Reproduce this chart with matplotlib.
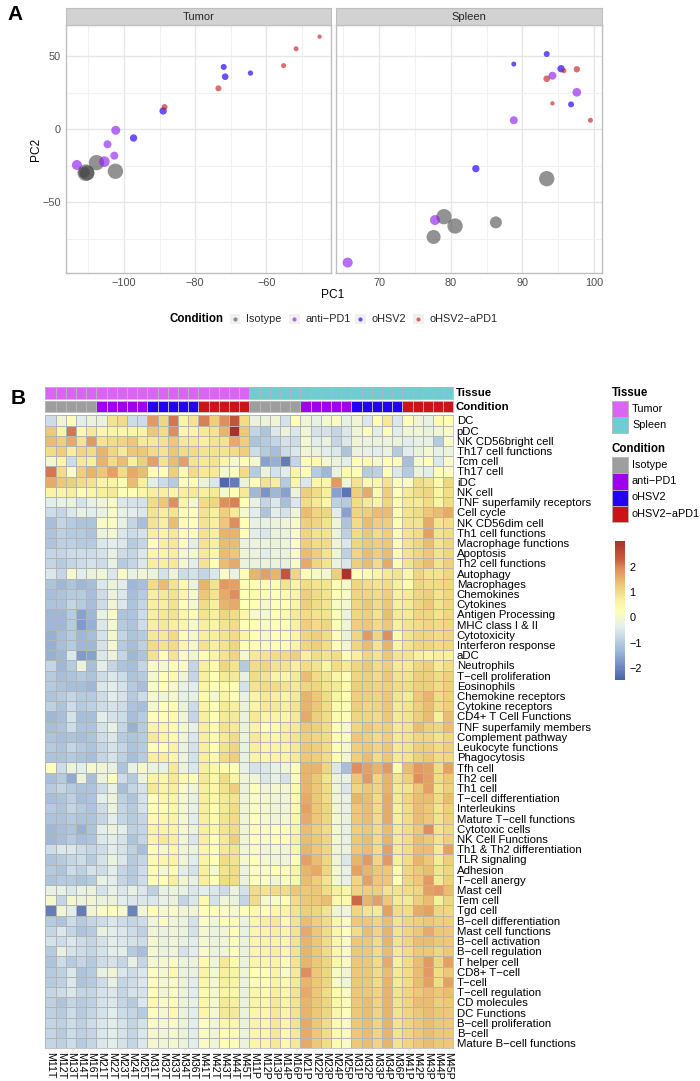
import matplotlib
matplotlib.use("Agg")
import matplotlib.pyplot as plt
import numpy as np
from matplotlib.colors import LinearSegmentedColormap, ListedColormap
from matplotlib.patches import Rectangle

plt.rcParams['font.family'] = ['Liberation Sans', 'DejaVu Sans']

W, H = 700, 1081
conditions = ['Isotype', 'anti\u2212PD1', 'oHSV2', 'oHSV2\u2212aPD1']
scatter_colors = ['#444444', '#9020F0', '#2000FF', '#C01818']
scatter_alpha = [0.58, 0.65, 0.68, 0.62]
track_colors = ['#9E9E9E', '#A000F0', '#2400F5', '#CC1418']
tissue_names = ['Tumor', 'Spleen']
tissue_colors = ['#DC64F5', '#6ECDD2']

tumor_pc1 = {
    'Isotype': [-107.7, -110.7, -110.3, -102.4, -111.2],
    'anti\u2212PD1': [-113.2, -105.5, -102.7, -104.6, -102.3],
    'oHSV2': [-97.3, -89.0, -71.6, -72.0, -64.5],
    'oHSV2\u2212aPD1': [-88.6, -73.5, -55.2, -51.7, -45.1],
}
tumor_pc2 = {
    'Isotype': [-22.9, -29.8, -30.0, -28.8, -29.7],
    'anti\u2212PD1': [-24.5, -22.2, -18.1, -10.3, -0.7],
    'oHSV2': [-6.0, 12.6, 36.1, 42.8, 38.6],
    'oHSV2\u2212aPD1': [15.3, 28.1, 43.7, 55.3, 63.6],
}
tumor_size = {
    'Isotype': [46, 50, 44, 46, 34],
    'anti\u2212PD1': [30, 32, 24, 24, 27],
    'oHSV2': [22, 22, 20, 18, 16],
    'oHSV2\u2212aPD1': [18, 18, 15, 15, 13],
}
spleen_pc1 = {
    'Isotype': [93.4, 79.05, 80.6, 86.3, 77.6],
    'anti\u2212PD1': [65.6, 77.8, 88.8, 97.6, 94.2],
    'oHSV2': [83.5, 93.4, 88.8, 95.4, 96.8],
    'oHSV2\u2212aPD1': [93.4, 95.8, 97.6, 94.2, 99.5],
}
spleen_pc2 = {
    'Isotype': [-33.9, -60.0, -66.4, -63.9, -73.9],
    'anti\u2212PD1': [-91.5, -62.3, 6.2, 25.4, 36.8],
    'oHSV2': [-27.0, 51.7, 44.8, 41.6, 17.1],
    'oHSV2\u2212aPD1': [34.7, 40.2, 41.2, 17.8, 6.2],
}
spleen_size = {
    'Isotype': [46, 46, 46, 36, 42],
    'anti\u2212PD1': [30, 30, 24, 26, 24],
    'oHSV2': [22, 18, 15, 22, 18],
    'oHSV2\u2212aPD1': [20, 15, 19, 13, 15],
}

row_labels = ['DC', 'pDC', 'NK CD56bright cell', 'Th17 cell functions', 'Tcm cell', 'Th17 cell', 'iDC', 'NK cell',
 'TNF superfamily receptors', 'Cell cycle', 'NK CD56dim cell', 'Th1 cell functions', 'Macrophage functions',
 'Apoptosis', 'Th2 cell functions', 'Autophagy', 'Macrophages', 'Chemokines', 'Cytokines', 'Antigen Processing',
 'MHC class I & II', 'Cytotoxicity', 'Interferon response', 'aDC', 'Neutrophils', 'T\u2212cell proliferation',
 'Eosinophils', 'Chemokine receptors', 'Cytokine receptors', 'CD4+ T Cell Functions', 'TNF superfamily members',
 'Complement pathway', 'Leukocyte functions', 'Phagocytosis', 'Tfh cell', 'Th2 cell', 'Th1 cell',
 'T\u2212cell differentiation', 'Interleukins', 'Mature T\u2212cell functions', 'Cytotoxic cells', 'NK Cell Functions',
 'Th1 & Th2 differentiation', 'TLR signaling', 'Adhesion', 'T\u2212cell anergy', 'Mast cell', 'Tem cell', 'Tgd cell',
 'B\u2212cell differentiation', 'Mast cell functions', 'B\u2212cell activation', 'B\u2212cell regulation', 'T helper cell',
 'CD8+ T\u2212cell', 'T\u2212cell', 'T\u2212cell regulation', 'CD molecules', 'DC Functions', 'B\u2212cell proliferation',
 'B\u2212cell', 'Mature B\u2212cell functions']

mice = ['M11', 'M12', 'M13', 'M14', 'M16', 'M21', 'M22', 'M23', 'M24', 'M25',
        'M31', 'M32', 'M33', 'M34', 'M36', 'M41', 'M42', 'M43', 'M44', 'M45']
col_labels = [m + 'T' for m in mice] + [m + 'P' for m in mice]
col_condition = [0]*5 + [1]*5 + [2]*5 + [3]*5 + [0]*5 + [1]*5 + [2]*5 + [3]*5
col_tissue = [0]*20 + [1]*20

tumor_values = [
[-.7,-.1,.3,-.4,-.2,-.2,.9,1.0,-.7,-.7,1.8,1.1,2.1,.6,.9,2.0,1.2,1.9,2.4,1.0],
[1.3,.6,2.1,.4,.8,.5,.6,.5,.6,.6,1.3,1.0,1.9,.5,.6,.8,.9,1.5,3.0,1.3],
[1.4,1.2,1.6,.9,1.8,.9,1.0,1.1,1.3,.8,.8,.9,1.3,.8,.8,.7,.9,.9,1.6,1.2],
[1.0,1.2,.7,1.1,1.0,1.5,1.1,.8,1.3,1.3,1.0,.9,1.3,1.0,1.0,.9,.9,.9,1.0,1.2],
[0,.5,-.7,.8,.7,1.5,1.0,1.4,.7,1.2,1.7,.9,1.4,1.7,.9,.8,.9,.6,0,.3],
[2.1,1.0,.1,1.2,1.5,1.3,1.7,1.0,1.6,1.4,.3,.3,1.2,.4,1.0,.8,.8,0,.2,1.0],
[1.6,1.3,1.2,1.0,.9,.6,.6,.3,1.4,.7,-.4,-.7,-1.0,.2,.3,-.2,-.5,-2.4,-2.1,-.2],
[.6,.5,.7,.3,.5,.7,.8,.3,.3,.5,.7,.7,.5,.7,.8,.7,.8,0,.3,.8],
[-.4,-.3,-.2,-.6,-.3,-.1,.1,-.5,-.6,-.6,1.0,1.3,1.9,.6,0,1.0,1.1,1.9,2.0,.3],
[-.7,-.8,-.5,-.3,-.4,-.3,.1,-.3,-.4,-.5,.9,.7,.9,.3,.2,.9,.7,1.2,.8,0],
[-1.2,-.8,-1.0,-1.1,-1.1,.1,.1,-.3,-.8,-1.2,.9,.7,1.4,.3,.2,.9,.7,1.3,1.9,.3],
[-1.1,-.9,-1.0,-1.0,-1.1,-.2,0,-.5,-.7,-.6,.7,.6,.8,.3,.2,.9,.7,1.5,1.5,.3],
[-1.1,-.9,-.9,-1.0,-1.0,-.5,-.4,-.5,-1.0,-.8,.3,.7,.8,.2,-.4,.9,.7,1.4,1.4,-.2],
[-.8,-.8,-.7,-.7,-.7,-.6,-.3,-.7,-.8,-.5,.5,.6,.7,0,0,.8,.5,1.4,1.3,-.1],
[-.8,-1.0,-.8,-.7,-.6,-.7,-.3,-1.0,-.8,-.5,.7,.7,.8,0,-.4,.9,.3,1.4,1.6,-.2],
[-.5,-.8,0,-.4,-.2,-.1,-.5,.1,-.3,-.1,-.2,-.6,-.2,-.7,-.6,-.8,-.5,.1,-.2,.3],
[-1.1,-1.3,-1.1,-1.3,-1.2,-.5,-.2,-.4,-1.3,-1.2,1.0,1.4,.9,.4,-.2,1.5,.9,1.8,1.7,.3],
[-1.2,-1.1,-1.0,-1.0,-1.2,-.7,-.2,-.5,-1.2,-1.0,.7,.8,.9,.5,0,1.3,.9,1.6,1.9,.3],
[-1.1,-1.1,-.8,-1.0,-1.2,-.7,-.1,-.5,-1.1,-.8,.7,.7,.9,.3,0,1.0,.7,1.5,1.6,.3],
[-1.3,-1.3,-1.0,-1.6,-1.3,-.3,.1,-1.1,-1.1,-.7,.7,.8,.9,.5,.3,.9,.7,1.1,1.0,.5],
[-1.3,-1.3,-1.0,-1.7,-1.4,-.5,0,-1.0,-1.1,-.7,.7,.8,.7,.5,0,.7,.6,.9,1.0,.3],
[-1.4,-1.2,-1.0,-1.3,-1.2,-.6,0,-.8,-1.1,-1.0,.8,.8,1.0,.3,0,.7,.7,.9,1.0,.6],
[-1.4,-1.2,-1.0,-1.3,-1.3,-.6,0,-1.0,-1.2,-.9,1.0,.9,1.0,.5,0,.9,.7,.9,1.1,.3],
[-1.4,-1.3,-.5,-1.7,-1.6,-.5,-.2,-.8,-1.3,-1.1,.9,.3,.9,.1,-.1,.3,.6,.9,1.1,0],
[-.8,-1.3,-1.0,-.2,-1.2,-.4,-.8,-1.1,-1.2,-.8,.1,0,.2,.1,-.8,.7,.4,1.1,.9,-1.0],
[-1.0,-1.2,-1.1,-1.0,-1.1,-.7,-.5,-.7,-1.1,-1.0,0,.3,.4,-.1,-.8,.7,.3,.8,.8,-.3],
[-1.0,-1.1,-1.2,-1.2,-1.3,-.5,-.4,-.6,-1.0,-1.2,.1,.3,0,-.3,-.4,.6,.2,.4,.3,-.6],
[-1.1,-1.0,-.8,-1.0,-1.0,-.7,-.4,-.6,-1.0,-.7,0,-.1,0,-.3,-.3,.4,0,.6,.2,-.3],
[-.9,-1.1,-.7,-1.0,-.9,-.7,-.6,-.7,-1.1,-1.2,0,.2,.3,-.2,-.7,.6,.2,.8,.7,-.2],
[-1.3,-1.2,-.6,-1.2,-1.2,-.4,-.6,-.7,-1.2,-1.0,.3,.3,.4,-.1,-.8,.7,.3,.8,.8,-.2],
[-1.2,-1.1,-.7,-1.1,-1.1,-.6,-.3,-.8,-1.4,-1.0,.6,.5,.4,0,-.3,.7,.4,.9,.8,-.2],
[-1.1,-1.2,-1.1,-1.2,-1.1,-.7,-.5,-1.0,-1.1,-1.0,.8,.6,.4,-.1,-.5,.7,.4,.8,1.0,-.2],
[-1.0,-1.1,-.8,-1.0,-1.1,-.8,-.6,-.8,-1.1,-1.0,.3,.3,.6,-.2,-.6,.7,.3,.9,1.1,-.3],
[-1.1,-1.1,-1.0,-1.1,-1.2,-.8,-.6,-.9,-1.2,-1.0,.7,.7,.5,-.2,-.6,.7,.4,1.0,1.2,-.3],
[.2,-.7,-.2,-.4,0,-.1,-.3,-1.1,-.3,0,-.2,-.3,.8,-.2,-.5,.7,.5,.4,.3,-.3],
[-1.2,-1.0,-1.5,-.2,-1.2,-.2,.2,-.7,-1.0,-.2,.6,.5,.8,.4,.3,.8,.5,1.0,.6,-.1],
[-1.0,-.8,-1.0,-1.1,-1.1,-.7,-.3,-1.2,-.8,-.6,.8,.6,.7,.1,-.1,.7,.5,.9,1.2,-.2],
[-1.2,-1.1,-.9,-1.2,-1.1,-.4,-.2,-.9,-1.1,-.6,.3,.5,.6,0,-.3,.7,.5,.8,.9,-.1],
[-1.0,-1.1,-.8,-1.0,-1.1,-.7,-.2,-.8,-1.0,-.6,.3,.3,.5,0,-.3,.7,.3,.8,1.0,-.1],
[-1.1,-1.1,-1.0,-1.1,-1.1,-.8,-.4,-.8,-1.0,-.8,.4,.5,.6,0,-.4,.7,.4,.9,1.0,-.1],
[-1.3,-1.2,-1.1,-1.4,-1.1,-.4,-.2,-.4,-.9,-.8,.6,.6,.6,0,-.2,.7,.5,.9,1.0,-.1],
[-1.3,-1.2,-1.0,-1.2,-1.1,-.5,-.4,-.6,-1.1,-.8,.6,.8,.7,-.1,-.5,.7,.3,.8,1.2,-.1],
[-.7,-.5,-.5,-.7,-.8,-.7,-.4,-.6,-.9,-1.2,.3,0,.5,-.1,-.2,.5,.2,.8,.9,-.1],
[-1.1,-1.0,-.8,-.7,-1.0,-.6,-.2,-.5,-1.0,-.8,.4,.5,.6,-.1,-.4,.6,.3,1.0,.9,0],
[-1.0,-1.1,-.7,-.9,-.6,-.7,-.4,-.8,-1.0,-.7,.3,0,.3,-.4,-.6,.7,0,.9,1.0,-.2],
[-1.1,-1.0,-1.0,-1.1,-1.0,-.3,-.4,-.8,-1.0,-.7,.3,.3,.7,-.1,-.3,.7,.3,1.0,1.0,-.2],
[-.3,-.3,-.5,-.3,-.2,-.6,-.3,-.5,-.3,-.5,-.9,-.3,-.2,-.3,-.5,-.4,-.5,-.7,-.2,-.6],
[0,-.8,0,-.2,-.1,-.2,-.2,-.4,-.5,-.5,-.5,-.3,-.2,-.8,-.5,.4,-.6,-.1,-.2,-.8],
[-2.1,-.1,-.4,-2.1,-.1,.1,.2,0,-2.0,-.1,.3,0,.1,-.1,-.1,.3,.3,.1,0,.3],
[-1.0,-1.1,-.7,-1.0,-.8,-.7,-.5,-.7,-.8,-.7,-.1,.1,-.1,-.2,-.6,.1,-.1,.2,.3,-.2],
[-.8,-.5,-.8,-1.1,-1.0,-.3,-.4,-.5,-.7,-.9,-.1,-.2,-.1,-.2,-.6,0,-.2,-.1,.3,-.3],
[-.6,-.7,-.5,-.7,-.8,-.6,-.4,-.5,-.6,-.7,0,-.2,-.1,-.3,-.4,0,-.2,-.1,.2,-.2],
[-1.0,-.3,-.6,-.7,-.8,-.6,-.4,-.4,-1.0,-1.2,0,-.2,-.1,-.6,-.4,.1,-.2,-.1,.2,-.2],
[-1.1,-.7,-1.0,-.8,-1.0,-.7,-.6,-.8,-.3,-.8,0,0,.1,-.2,-.2,.4,-.1,.8,.4,-.2],
[-1.0,-.9,-.5,-1.1,-1.0,-.3,-.1,-.5,-.7,-.5,.2,0,.4,-.2,-.3,.6,0,.7,.6,-.1],
[-1.0,-.9,-.5,-1.1,-1.0,-.7,-.3,-.8,-.7,-.5,.2,0,.1,-.2,-.4,.5,0,.7,.6,-.2],
[-.8,-.7,-.5,-.8,-.8,-.6,-.5,-.8,-.6,-.6,.2,-.1,.1,-.2,-.4,.4,0,.6,.5,-.2],
[-.9,-1.1,-.8,-1.0,-.9,-.6,-.5,-.8,-1.0,-.5,.4,.1,.2,-.2,-.3,.5,0,.8,.7,-.2],
[-.9,-1.0,-.7,-1.0,-.8,-.6,-.4,-.7,-.8,-1.0,.2,0,.4,-.2,-.4,.5,0,.8,.8,-.2],
[-.8,-.9,-.7,-.9,-.7,-.5,-.4,-.6,-.8,-.6,.1,0,.1,-.2,-.4,.2,-.1,.5,.5,-.2],
[-.8,-1.0,-.7,-.9,-.8,-.5,-.4,-.6,-.8,-.5,0,-.1,0,-.2,-.4,.1,-.1,.3,.3,-.2],
[-.8,-.9,-.7,-1.0,-.8,-.5,-.4,-.6,-.8,-.5,0,-.1,0,-.2,-.4,.1,-.1,.3,.3,-.2],
]

spleen_values = [
[-.2,-.2,-.1,-.6,.3,-.1,-.3,0,.1,-.3,-.1,-.5,.3,.8,-.5,.3,-.1,-.3,.4,.3],
[-.8,-1.1,-.5,-.2,-.5,-.1,-.6,-.6,-.8,-.5,-.1,.2,-.4,.3,-.4,-.1,-.1,-.2,-.1,.1],
[-1.1,-1.0,-.8,-.6,-.7,0,-.4,-.2,-.8,-.5,-.1,-.2,-.2,-.2,-.2,-.4,-.3,-.3,-1.0,.1],
[-.7,-1.0,-1.2,-.7,-.5,-.1,-.2,-.4,-.5,-1.1,-.2,-.3,-.4,-.2,-1.0,-.4,-.2,0,-.3,-.2],
[0,-1.6,-1.4,-2.1,-.8,.3,.4,0,-.2,-.4,.3,.4,0,.3,.2,-1.2,0,.2,-.5,.1],
[-1.0,-.2,-.6,-.4,.6,.3,-1.0,-1.3,-.2,.4,.3,-1.0,-.9,.3,-.5,-1.0,-.2,-.4,.3,.2],
[.3,.9,.7,-1.0,.5,-.5,.5,.5,1.8,-.1,.9,.4,.5,.9,.2,.1,1.0,.9,.4,1.1],
[-1.3,-1.8,-1.3,-1.6,-.2,1.2,1.0,.7,-1.6,-2.2,1.2,1.6,.4,1.2,.2,.8,1.0,1.1,.6,1.0],
[-.3,-.8,-.5,-1.2,-.5,1.0,.8,.5,-.9,-1.0,1.0,.8,.6,1.1,.3,.8,.8,1.0,.6,1.0],
[-.4,-1.1,-.4,-.6,-.1,1.4,1.1,1.1,-.4,-1.6,1.1,1.2,1.4,1.4,.3,.9,1.0,1.3,1.4,1.6],
[-.3,-.3,-.2,-.1,.1,1.2,1.1,.9,-.1,-1.1,1.0,1.4,1.2,1.2,.3,.9,.9,1.6,.9,1.0],
[-.4,-.5,-.2,-.2,.1,1.1,.9,.9,-.2,-.9,1.0,1.3,1.0,1.2,.3,.9,1.0,1.7,.9,1.0],
[-.2,-.2,-.2,-.1,.2,1.2,1.0,1.0,-.1,-.5,1.1,1.3,1.2,1.3,.3,.9,1.1,1.4,.9,1.1],
[-.2,-.4,-.2,-.2,.1,1.4,1.2,.9,-.1,-.9,1.1,1.4,1.2,1.4,.3,.9,1.1,1.3,.9,1.1],
[-.2,-.2,-.2,-.3,.1,1.6,1.1,.9,-.2,-.5,1.2,1.4,1.0,1.6,.3,.9,1.2,1.4,.9,1.2],
[1.5,1.7,1.5,2.4,1.1,.3,.1,0,1.2,2.95,.3,.4,.6,.8,.9,.5,1.1,.9,.9,1.1],
[.3,.3,.3,.9,.6,1.0,.9,.9,.3,0,1.1,1.0,.9,1.0,.7,.4,1.1,1.0,1.0,1.1],
[.4,.3,.2,.4,.6,1.2,1.0,.9,.3,.1,1.1,1.1,1.0,1.2,.7,.8,1.1,1.2,.9,1.1],
[.3,0,.2,.3,.6,1.2,1.0,.9,.1,0,1.1,1.3,1.0,1.3,.7,.8,1.1,1.3,.9,1.1],
[.1,0,.3,.4,.8,1.0,.9,.9,.3,-.2,1.1,1.2,.9,1.4,.8,.8,1.1,1.1,.9,1.1],
[.3,.1,.3,.3,.7,1.2,1.0,1.1,.2,-.1,1.2,1.3,1.0,1.3,.7,.9,1.0,1.1,1.0,1.1],
[.3,0,.2,.3,.6,1.1,1.2,1.0,.2,-.2,1.1,1.8,1.1,1.9,.4,.9,1.1,1.1,1.0,1.1],
[.3,.1,.3,.3,.6,1.1,1.2,1.0,.2,-.1,1.1,1.4,.9,1.5,.6,.9,1.1,1.1,1.0,1.1],
[.8,.9,1.0,1.0,1.2,.7,1.0,.9,1.0,.3,.7,1.1,.9,1.3,.9,.9,.7,.6,.7,.7],
[1.0,1.1,.9,.9,.7,1.0,.9,.6,1.0,.8,1.1,1.3,1.0,1.2,.8,.8,1.1,1.2,.8,1.0],
[1.0,.9,.6,.5,.8,1.4,1.0,.9,.5,.3,1.1,1.2,1.0,1.3,.9,.9,1.2,1.2,1.0,1.2],
[.9,1.0,1.0,.9,.8,1.1,1.1,.9,.8,.4,1.2,1.2,1.1,1.2,1.0,1.0,1.2,1.2,1.0,1.2],
[.6,.8,.7,.6,.8,1.5,1.3,1.0,.6,.3,1.2,1.2,1.1,1.3,.9,.8,1.3,1.5,1.0,1.2],
[.6,.8,.8,.7,.9,1.5,1.3,1.0,.4,.3,1.2,1.1,1.1,1.3,.8,.9,1.2,1.4,1.0,1.2],
[.8,.6,.6,.5,.8,1.6,1.2,1.0,.4,.3,1.1,1.1,1.0,1.3,.8,.9,1.2,1.4,.7,1.4],
[.6,.3,.4,.7,.8,1.3,1.2,1.0,.3,0,1.1,1.3,1.1,1.2,.8,.9,1.4,1.2,1.1,1.4],
[.8,.6,.5,.7,.9,1.2,1.1,1.0,.3,.1,1.3,1.2,1.0,1.2,.8,.9,1.1,1.1,.9,1.1],
[.7,.5,.6,.6,.8,1.3,1.2,1.0,.3,0,1.2,1.3,1.1,1.3,.8,.9,1.2,1.2,1.0,1.2],
[.6,.5,.6,.6,.8,1.3,1.2,1.0,.3,-.1,1.2,1.4,1.0,1.3,.8,.9,1.2,1.3,1.0,1.1],
[-.6,-.5,-.3,-.1,.3,1.5,1.5,1.1,-.5,-1.2,1.9,1.7,1.5,1.8,.4,1.4,1.8,1.7,1.0,1.7],
[-.1,-.5,-.3,-.6,.2,1.5,1.3,.9,-.2,-.3,1.3,1.8,1.1,1.5,.9,1.2,1.9,1.7,1.0,1.3],
[.2,-.1,0,0,.4,1.5,1.3,1.0,-.1,-.5,1.1,1.3,1.1,1.5,.8,.9,1.3,1.7,.9,1.2],
[.1,0,-.1,-.1,.4,1.6,1.3,1.0,-.1,-.3,1.5,1.4,1.0,1.6,.8,1.1,1.4,1.4,1.0,1.4],
[.1,0,-.1,-.1,.4,1.7,1.3,1.1,-.1,-.3,1.3,1.4,1.0,1.6,.7,1.0,1.4,1.3,.9,1.2],
[.2,0,-.1,0,.5,1.6,1.3,1.1,0,-.2,1.3,1.4,1.0,1.6,.7,1.0,1.4,1.3,.9,1.2],
[.2,.1,.2,.3,.6,1.4,1.2,1.0,0,-.3,1.2,1.3,1.0,1.4,.8,1.0,1.3,1.9,.9,1.1],
[.2,.1,.3,.3,.7,1.4,1.3,1.1,0,-.3,1.3,1.4,1.0,1.5,.8,1.0,1.4,1.3,.9,1.2],
[.1,-.1,0,-.1,.5,1.5,1.3,1.1,-.1,-.2,1.3,1.4,1.0,1.7,.8,1.0,1.4,1.4,.8,1.7],
[.2,0,-.1,-.1,.3,1.7,1.4,1.1,-.1,-.5,1.5,1.8,1.1,1.8,.7,1.0,1.5,1.3,.8,1.2],
[.2,.1,.3,.3,.6,1.5,1.6,1.1,0,-.3,1.7,1.5,1.3,1.3,.4,1.1,1.3,1.4,.9,1.1],
[.2,.1,-.1,.1,.5,1.4,1.2,.9,0,-.3,1.1,1.7,1.3,1.3,.3,1.1,1.3,1.8,.8,1.2],
[1.0,.9,1.0,1.0,1.3,1.3,1.3,1.0,.7,.5,1.1,1.2,1.2,.9,.9,1.0,1.1,1.7,1.8,1.4],
[1.0,0,.1,.3,1.0,1.3,1.3,1.4,.4,.4,2.2,1.5,1.7,1.3,.8,.8,1.2,1.4,.7,1.1],
[.4,.3,.5,.6,.9,1.2,1.1,.9,-.1,-.1,1.1,.9,.8,1.7,1.0,1.0,1.6,1.7,1.1,1.1],
[.5,.7,.8,.4,.9,1.4,1.2,1.0,.5,.1,1.3,1.3,1.1,1.4,.9,1.1,1.2,1.3,1.2,1.2],
[.5,.6,.7,.5,.9,1.6,1.3,1.0,.5,.2,1.0,1.4,1.1,1.5,.9,1.1,1.3,1.6,1.3,1.3],
[.5,.6,.6,.5,.9,1.5,1.3,1.0,.5,.1,1.3,1.3,1.0,1.5,.9,1.1,1.4,1.4,1.3,1.3],
[.5,.6,.7,.5,.9,1.5,1.3,1.0,.5,.1,1.3,1.3,1.0,1.4,.8,1.0,1.3,1.3,1.1,1.3],
[.5,.5,.6,.3,.9,1.5,1.3,1.1,.5,.1,1.3,1.3,1.0,1.6,.7,1.0,1.4,1.8,1.1,1.7],
[.3,.3,.6,.1,.8,1.9,1.3,1.1,.1,-.1,1.3,1.3,1.0,1.4,.8,1.0,1.4,1.8,1.0,1.3],
[.3,.3,.6,.4,.8,1.5,1.3,1.1,.1,-.1,1.3,1.3,1.0,1.5,.8,1.0,1.4,1.7,1.0,1.7],
[.5,.4,.7,.5,.9,1.6,1.3,1.0,.4,.1,1.3,1.3,1.1,1.5,.9,1.1,1.3,1.4,1.3,1.4],
[.6,.5,.8,.6,.9,1.5,1.3,1.1,.5,.2,1.3,1.4,1.1,1.5,.9,1.1,1.4,1.4,1.2,1.3],
[.5,.5,.8,.5,.9,1.5,1.3,1.1,.5,.2,1.3,1.4,1.1,1.5,.9,1.1,1.3,1.4,1.3,1.3],
[.6,.5,.8,.5,.9,1.6,1.3,1.0,.4,.1,1.3,1.4,1.1,1.5,.9,1.1,1.3,1.4,1.3,1.3],
[.5,.5,.8,.4,.8,1.6,1.3,1.0,.4,.1,1.3,1.4,1.1,1.5,.9,1.1,1.3,1.4,1.3,1.3],
[.5,.5,.8,.4,.8,1.6,1.3,1.0,.4,.1,1.3,1.4,1.1,1.5,.9,1.1,1.3,1.4,1.3,1.3],
]

color_bar_ticks = [-2, -1, 0, 1, 2]
VMIN, VMAX = -2.47, 3.03
anchor_vals = [-2.47, -1.8, -1.4, -1.0, -.7, -.4, -.1, .25, .7, 1.0, 1.3, 1.6, 1.9, 2.3, 3.03]
anchor_cols = ['#4A62A8', '#7A94C6', '#98B2D6', '#B5CBE0', '#CCDDE9', '#E2EEEC', '#F0F5D5', '#FFFFB8',
               '#F8F0A0', '#F2DC88', '#ECC878', '#E6AC68', '#E09060', '#C85C3C', '#A8302C']
cmap = LinearSegmentedColormap.from_list(
    'heat', [((v - VMIN) / (VMAX - VMIN), c) for v, c in zip(anchor_vals, anchor_cols)], N=256)

fig = plt.figure(figsize=(W / 100, H / 100), dpi=100)


def px_axes(l, t, r, b, **kw):
    return fig.add_axes([l / W, 1 - b / H, (r - l) / W, (b - t) / H], **kw)


ov = px_axes(0, 0, W, H)
ov.set_xlim(0, W)
ov.set_ylim(H, 0)
ov.axis('off')
ov.set_zorder(5)
ov.patch.set_alpha(0)

GRID = '#E6E6E6'
BORDER = '#BEBEBE'
TXT = '#4D4D4D'
CELL_EDGE = '#B4B4B4'
CELL_LW = 0.55


def facet(box, title, xs, ys, sizes, xlim, xticks, xminor, yticks_show):
    l, t, r, b = box
    ax = px_axes(l, t, r, b)
    ax.set_xlim(*xlim)
    ax.set_ylim(-99, 71.4)
    ax.set_xticks(xticks)
    ax.set_xticks(xminor, minor=True)
    ax.set_yticks([-50, 0, 50])
    ax.set_yticks([-75, -25, 25], minor=True)
    ax.grid(which='major', color=GRID, lw=1.0)
    ax.grid(which='minor', color='#F0F0F0', lw=0.8)
    ax.set_axisbelow(True)
    ax.set_xticklabels([str(v).replace('-', '\u2212') for v in xticks], fontsize=7.8, color=TXT)
    if yticks_show:
        ax.set_yticklabels(['\u221250', '0', '50'], fontsize=7.8, color=TXT)
    else:
        ax.set_yticklabels([])
    ax.tick_params(which='both', length=0, pad=3.5)
    for s in ax.spines.values():
        s.set_color(BORDER)
        s.set_linewidth(1.0)
    for c, col, al in zip(conditions, scatter_colors, scatter_alpha):
        d = np.array(sizes[c]) / 3 * 0.72
        ax.scatter(xs[c], ys[c], s=d ** 2, color=col, alpha=al, linewidths=0, zorder=3)
    st = px_axes(l, 7.5, r, t)
    st.set_xticks([])
    st.set_yticks([])
    st.set_facecolor('#D2D2D2')
    for s in st.spines.values():
        s.set_color(BORDER)
        s.set_linewidth(0.8)
    st.text(0.5, 0.47, title, ha='center', va='center', transform=st.transAxes, fontsize=8, color='#262626')
    return ax


axT = facet((65.5, 25.3, 331, 273.5), 'Tumor', tumor_pc1, tumor_pc2, tumor_size, (-116.4, -41.9),
            [-100, -80, -60], [-110, -90, -70, -50], True)
axS = facet((335.5, 25.3, 601.5, 273.5), 'Spleen', spleen_pc1, spleen_pc2, spleen_size, (63.9, 101.05),
            [70, 80, 90, 100], [65, 75, 85, 95], False)
axT.set_ylabel('PC2', fontsize=8.6, labelpad=0)

ov.text(333, 294.5, 'PC1', ha='center', va='center', fontsize=8.6)
ov.text(7, 15, 'A', ha='left', va='center', fontsize=15, fontweight='bold')
ov.text(11, 399, 'B', ha='left', va='center', fontsize=15, fontweight='bold')

ov.text(170, 319, 'Condition', ha='left', va='center', fontsize=8.3, fontweight='bold')
key_left = [229.5, 289, 355, 413]
text_left = [246, 306, 371, 430]
for kx, tx, name, col, al in zip(key_left, text_left, conditions, scatter_colors, scatter_alpha):
    ov.add_patch(Rectangle((kx, 313.5), 10.5, 10.5, facecolor='#F0F0F0', edgecolor='none'))
    ov.scatter([kx + 5.25], [318.8], s=9, color=col, alpha=al, linewidths=0)
    ov.text(tx, 319, name, ha='left', va='center', fontsize=7.8, color='#262626')

values = np.hstack([np.array(tumor_values, dtype=float), np.array(spleen_values, dtype=float)])
n_rows, n_cols = values.shape

ax = px_axes(45.4, 415.3, 453.3, 1048.3)
mesh = ax.pcolormesh(np.arange(n_cols + 1), np.arange(n_rows + 1), values, cmap=cmap, vmin=VMIN, vmax=VMAX,
                     edgecolors=CELL_EDGE, linewidth=CELL_LW)
ax.set_ylim(n_rows, 0)
ax.set_xlim(0, n_cols)
ax.yaxis.tick_right()
ax.set_yticks(np.arange(n_rows) + 0.5)
ax.set_yticklabels(row_labels, fontsize=8.2)
ax.set_xticks(np.arange(n_cols) + 0.5)
ax.set_xticklabels(col_labels, fontsize=7.7, rotation=-90, ha='center', va='top')
ax.tick_params(length=0, pad=2.5)
for s in ax.spines.values():
    s.set_color(CELL_EDGE)
    s.set_linewidth(CELL_LW)

for box, data, colors, label in [((45.4, 387.3, 453.3, 399), col_tissue, tissue_colors, 'Tissue'),
                                 ((45.4, 401, 453.3, 412.3), col_condition, track_colors, 'Condition')]:
    tr = px_axes(*box)
    tr.pcolormesh(np.arange(n_cols + 1), [0, 1], np.array([data]), cmap=ListedColormap(colors),
                  vmin=-0.5, vmax=len(colors) - 0.5, edgecolors=CELL_EDGE, linewidth=0.4)
    tr.set_xticks([])
    tr.set_yticks([])
    for s in tr.spines.values():
        s.set_color(CELL_EDGE)
        s.set_linewidth(CELL_LW)
    ov.text(456, (box[1] + box[3]) / 2, label, ha='left', va='center', fontsize=8.2, fontweight='bold')

ov.text(612, 393, 'Tissue', ha='left', va='center', fontsize=8.3, fontweight='bold')
for i, (name, col) in enumerate(zip(tissue_names, tissue_colors)):
    y0 = 400.7 + i * 16.1
    ov.add_patch(Rectangle((612, y0), 16, 16.1, facecolor=col, edgecolor=CELL_EDGE, lw=0.6))
    ov.text(632, y0 + 8, name, ha='left', va='center', fontsize=7.8)
ov.text(612, 449, 'Condition', ha='left', va='center', fontsize=8.3, fontweight='bold')
for i, (name, col) in enumerate(zip(conditions, track_colors)):
    y0 = 457 + i * 16.25
    ov.add_patch(Rectangle((612, y0), 16, 16.25, facecolor=col, edgecolor=CELL_EDGE, lw=0.6))
    ov.text(632, y0 + 8, name, ha='left', va='center', fontsize=7.8)

cax = px_axes(615, 540.7, 625.3, 680)
cb = fig.colorbar(mesh, cax=cax)
cb.outline.set_visible(False)
cb.set_ticks(color_bar_ticks)
cb.set_ticklabels([str(v).replace('-', '\u2212') for v in color_bar_ticks], fontsize=7.8)
cb.ax.tick_params(length=0, pad=3)

fig.savefig('out.png', dpi=100)
